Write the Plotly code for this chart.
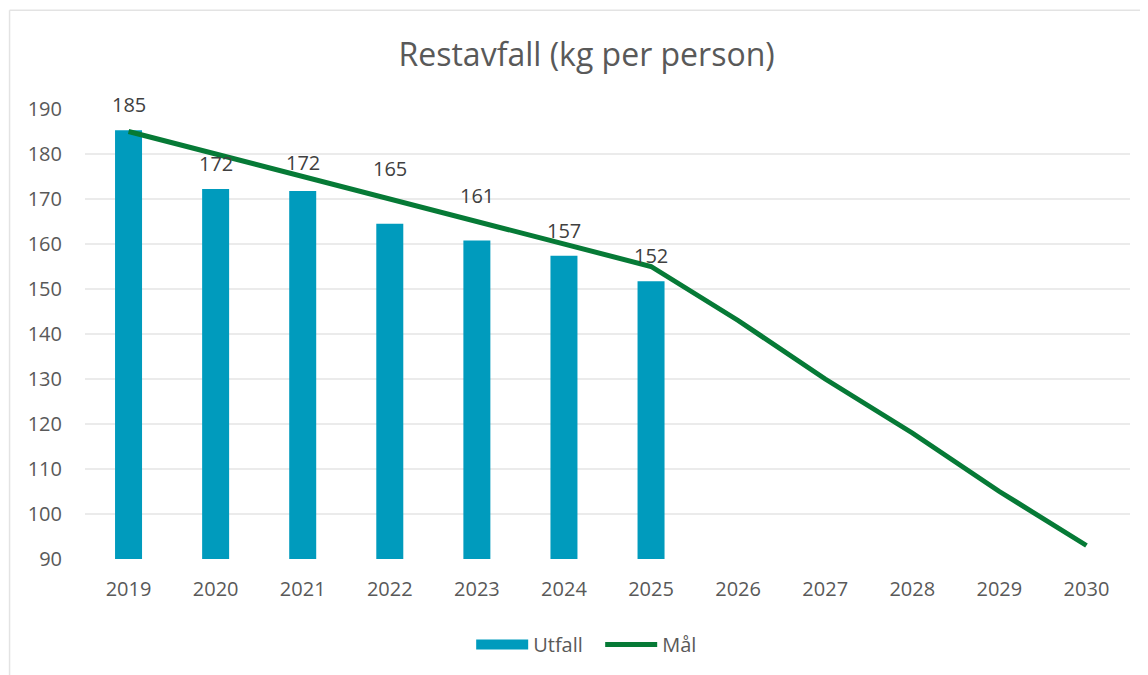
import plotly.graph_objects as go

years = [str(y) for y in range(2019, 2031)]
utfall_years = years[:7]
utfall = [185.3, 172.2, 171.8, 164.5, 160.8, 157.4, 151.7]
utfall_labels = ["185", "172", "172", "165", "161", "157", "152"]
maal = [185, 180, 175, 170, 165, 160, 155, 143, 130, 118, 105, 93]

# pixel offsets of the data labels above the bar tops (some lifted above the target line)
label_shift = [26, 26, 28, 55, 45, 25, 26]

TXT = "#595959"
FONT = "Open Sans"
BLUE = "#009bbd"
GREEN = "#067a36"

fig = go.Figure()
fig.add_trace(go.Bar(
    x=utfall_years, y=utfall, name="Utfall", showlegend=False,
    marker=dict(color=BLUE, line=dict(width=0)), width=0.31,
))
# legend entry mimicking the wide rectangular swatch
fig.add_trace(go.Scatter(
    x=[None], y=[None], name="Utfall", mode="lines",
    line=dict(color=BLUE, width=14),
))
fig.add_trace(go.Scatter(
    x=years, y=maal, name="Mål", mode="lines",
    line=dict(color=GREEN, width=5),
))

annotations = [
    dict(x=years.index(x), y=v, text=t, showarrow=False, xref="x", yref="y", yanchor="middle", yshift=s,
         font=dict(size=20, color="#404040", family=FONT))
    for x, v, t, s in zip(utfall_years, utfall, utfall_labels, label_shift)
]

fig.update_layout(
    width=1140, height=667,
    margin=dict(l=76.5, r=18, t=101, b=116, autoexpand=False),
    paper_bgcolor="white", plot_bgcolor="white",
    font=dict(family=FONT, color=TXT, size=20),
    title=dict(text="Restavfall (kg per person)", xref="paper", x=0.48, xanchor="center",
               yref="container", y=1 - 47 / 667, yanchor="middle",
               font=dict(size=32, color=TXT, family=FONT)),
    legend=dict(orientation="h", x=0.493, xanchor="center", y=-0.19, yanchor="middle",
                font=dict(size=20, color=TXT), traceorder="normal", entrywidth=62, itemwidth=52),
    showlegend=True,
    annotations=annotations,
    bargap=0.69,
    shapes=[
        dict(type="line", xref="paper", yref="paper", x0=-0.0722, x1=1.03, y0=1.2195, y1=1.2195,
             line=dict(color="#e3e3e3", width=1.5)),
        dict(type="line", xref="paper", yref="paper", x0=-0.0722, x1=-0.0722, y0=1.2195, y1=-0.30,
             line=dict(color="#e3e3e3", width=1.5)),
    ],
)
fig.update_xaxes(type="category", range=[-0.5, 11.5], showgrid=False, showline=False, ticks="",
                 tickfont=dict(size=20, color=TXT), ticklabelstandoff=16, automargin=False)
fig.update_yaxes(range=[90, 190], dtick=10, tick0=90, showgrid=True, gridcolor="#ebebeb", gridwidth=1.5,
                 zeroline=False, showline=False, ticks="", tickfont=dict(size=20, color=TXT),
                 ticklabelstandoff=22, automargin=False)

fig.write_html("out.html")
